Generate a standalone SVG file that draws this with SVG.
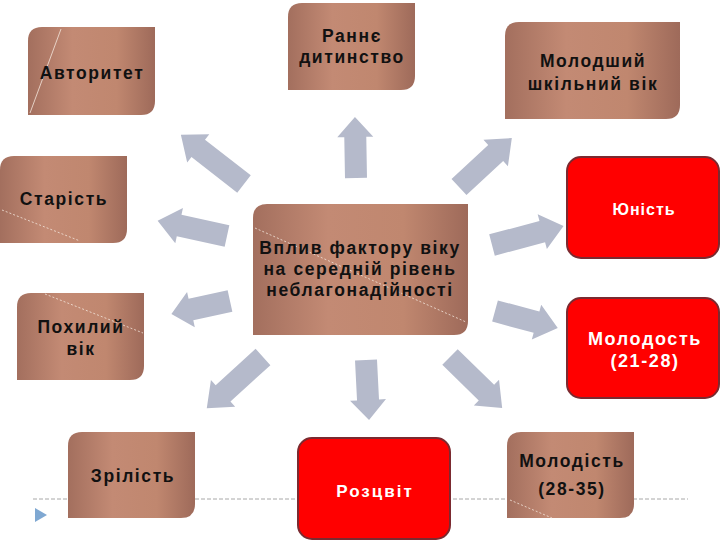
<svg xmlns="http://www.w3.org/2000/svg" width="720" height="540" viewBox="0 0 720 540">
<defs>
<linearGradient id="brown" x1="0" y1="0" x2="1" y2="0">
<stop offset="0" stop-color="#a36f5e"/>
<stop offset="0.35" stop-color="#c38a74"/>
<stop offset="0.7" stop-color="#c0876f"/>
<stop offset="1" stop-color="#9e6a5a"/>
</linearGradient>
<style>
.b{fill:url(#brown);}
.r{fill:#ff0000;stroke:#7b2a30;stroke-width:2;}
.arr{fill:#b5bacb;}
.t{font-family:"Liberation Sans",Arial,sans-serif;font-size:17.5px;font-weight:bold;fill:#111;text-anchor:middle;letter-spacing:1.6px;}
.w{font-family:"Liberation Sans",Arial,sans-serif;font-size:17px;font-weight:bold;fill:#fff;text-anchor:middle;letter-spacing:2px;}
.wy{font-size:16px;letter-spacing:1px;}
.wm{font-size:18px;letter-spacing:1.6px;}
.deco{stroke:#f4e6dc;stroke-width:1;fill:none;opacity:0.8;}
.dot{stroke:#f4e6dc;stroke-width:1;fill:none;stroke-dasharray:2 2;opacity:0.8;}
</style>
</defs>
<rect width="720" height="540" fill="#fff"/>
<line x1="33" y1="499" x2="688" y2="499" stroke="#a8a8a8" stroke-width="1" stroke-dasharray="4 2"/>
<polygon points="35,508 35,522 47,515" fill="#7fa8d2"/>
<g id="connectors">
<polygon class="arr" transform="translate(244,184) rotate(-142.1)" points="0,-11 58,-11 58,-18 80,0 58,18 58,11 0,11"/>
<polygon class="arr" transform="translate(356,178) rotate(-91)" points="0,-11 41,-11 41,-18 61,0 41,18 41,11 0,11"/>
<polygon class="arr" transform="translate(459,187) rotate(-42.8)" points="0,-11 50,-11 50,-18 72,0 50,18 50,11 0,11"/>
<polygon class="arr" transform="translate(492,245) rotate(-14.8)" points="0,-11 52,-11 52,-18 74,0 52,18 52,11 0,11"/>
<polygon class="arr" transform="translate(227,236) rotate(-167.7)" points="0,-11 49,-11 49,-18 71,0 49,18 49,11 0,11"/>
<polygon class="arr" transform="translate(230,301) rotate(167.6)" points="0,-11 40,-11 40,-18 60,0 40,18 40,11 0,11"/>
<polygon class="arr" transform="translate(263,357) rotate(137.7)" points="0,-11 54,-11 54,-18 76,0 54,18 54,11 0,11"/>
<polygon class="arr" transform="translate(366,360) rotate(87.1)" points="0,-11 40,-11 40,-18 60,0 40,18 40,11 0,11"/>
<polygon class="arr" transform="translate(450,357) rotate(44.4)" points="0,-11 51,-11 51,-18 73,0 51,18 51,11 0,11"/>
<polygon class="arr" transform="translate(495,311) rotate(15.1)" points="0,-11 43,-11 43,-18 65,0 43,18 43,11 0,11"/>
</g>
<g id="n-avtorytet">
<path class="b" d="M42,27 H155 V101 Q155,115 141,115 H28 V41 Q28,27 42,27 Z"/>
<line class="deco" x1="61" y1="29" x2="30" y2="113"/>
<text class="t" x="92" y="79">Авторитет</text>
</g>
<g id="n-rannie">
<path class="b" d="M302,3 H415 V76 Q415,90 401,90 H288 V17 Q288,3 302,3 Z"/>
<text class="t" x="352" y="42">Раннє</text>
<text class="t" x="352" y="63">дитинство</text>
</g>
<g id="n-molodshyi">
<path class="b" d="M519,22 H680 V105 Q680,119 666,119 H505 V36 Q505,22 519,22 Z"/>
<text class="t" x="593" y="67">Молодший</text>
<text class="t" x="593" y="90">шкільний вік</text>
</g>
<g id="n-yunist">
<rect class="r" x="567" y="157" width="152" height="101" rx="14"/>
<text class="w wy" x="644" y="215">Юність</text>
</g>
<g id="n-starist">
<path class="b" d="M14,156 H127 V229 Q127,243 113,243 H0 V170 Q0,156 14,156 Z"/>
<line class="dot" x1="2" y1="210" x2="80" y2="241"/>
<text class="t" x="64" y="205">Старість</text>
</g>
<g id="n-center">
<path class="b" d="M267,204 H468 V321 Q468,335 454,335 H253 V218 Q253,204 267,204 Z"/>
<line class="dot" x1="255" y1="228" x2="466" y2="322"/>
<text class="t" x="360" y="254">Вплив фактору віку</text>
<text class="t" x="360" y="275">на середній рівень</text>
<text class="t" x="360" y="296">неблагонадійності</text>
</g>
<g id="n-pokhylyi">
<path class="b" d="M31,293 H144 V366 Q144,380 130,380 H17 V307 Q17,293 31,293 Z"/>
<line class="dot" x1="45" y1="294" x2="143" y2="333"/>
<text class="t" x="81" y="333">Похилий</text>
<text class="t" x="81" y="355">вік</text>
</g>
<g id="n-zrilist">
<path class="b" d="M82,432 H195 V504 Q195,518 181,518 H68 V446 Q68,432 82,432 Z"/>
<text class="t" x="133" y="482">Зрілість</text>
</g>
<g id="n-roztsvit">
<rect class="r" x="298" y="438" width="152" height="101" rx="14"/>
<text class="w" x="375" y="497">Розцвіт</text>
</g>
<g id="n-molodost">
<rect class="r" x="567" y="298" width="152" height="100" rx="14"/>
<text class="w wm" x="645" y="345">Молодость</text>
<text class="w wm" x="645" y="367">(21-28)</text>
</g>
<g id="n-molodist">
<path class="b" d="M521,432 H634 V504 Q634,518 620,518 H507 V446 Q507,432 521,432 Z"/>
<line class="dot" x1="510" y1="500" x2="552" y2="518"/>
<text class="t" x="572" y="467">Молодість</text>
<text class="t" x="572" y="495">(28-35)</text>
</g>
</svg>
